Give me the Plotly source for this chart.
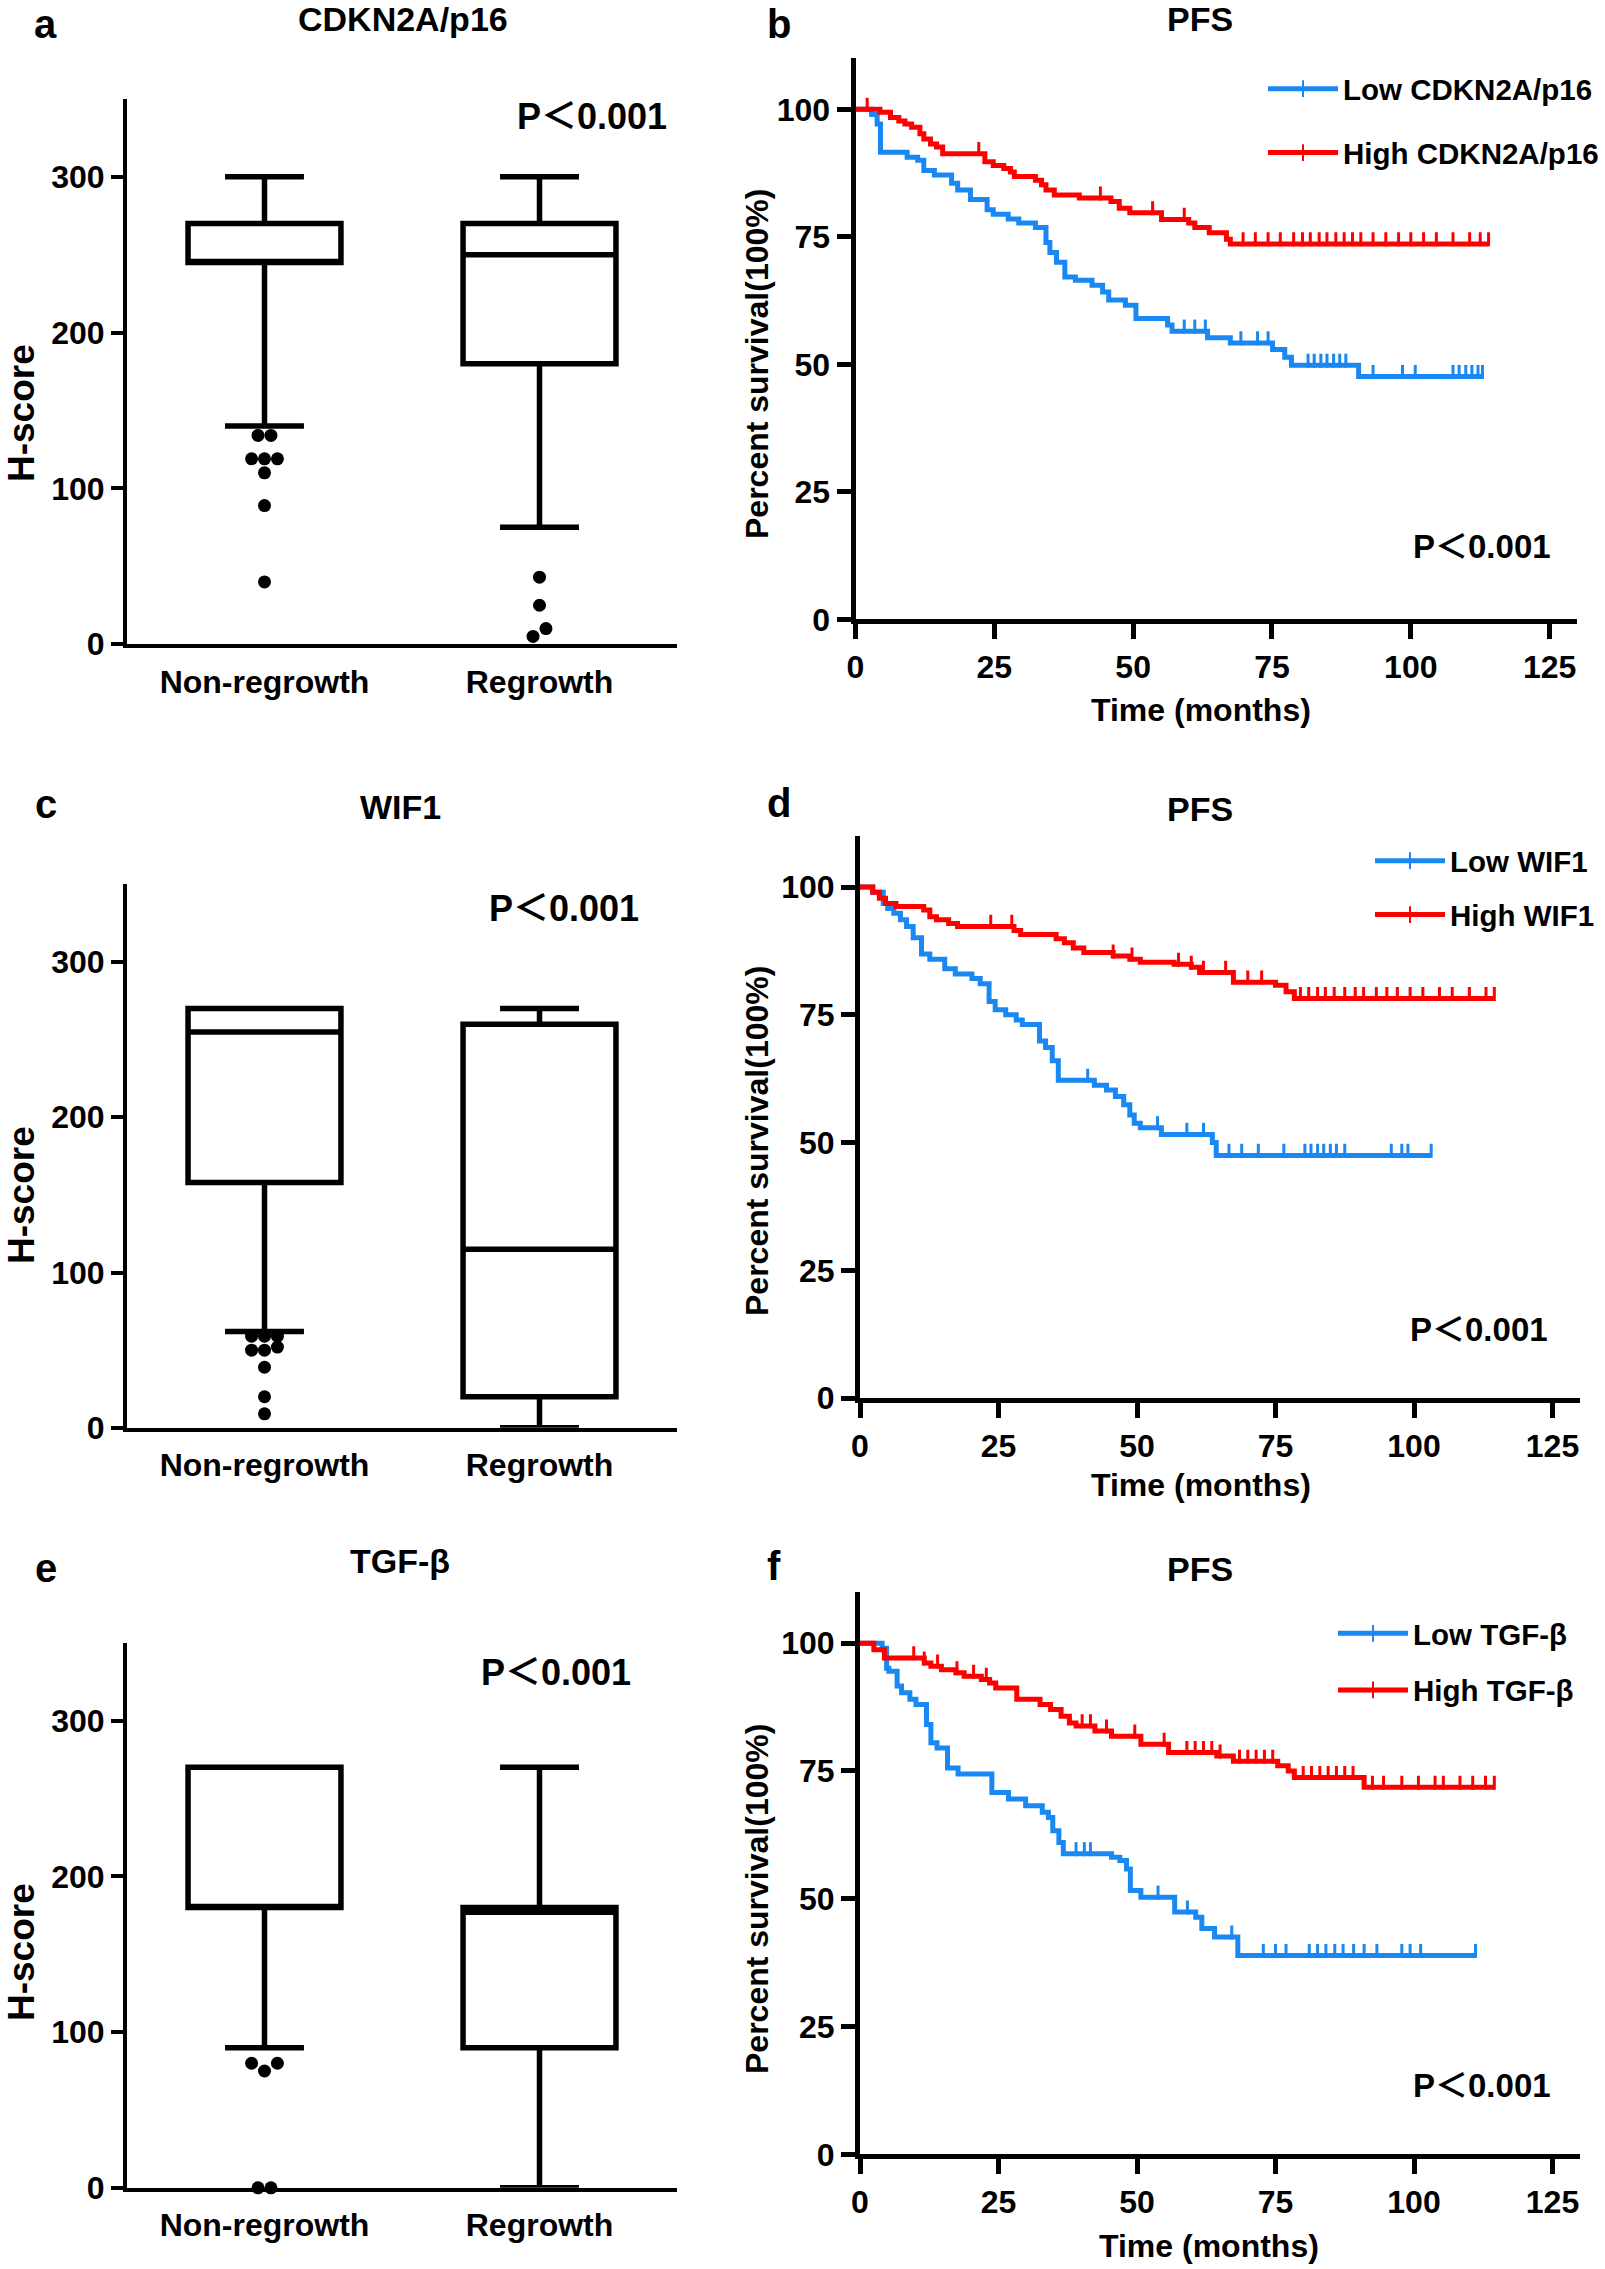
import plotly.graph_objects as go

W, H = 1605, 2269
FONT = "Liberation Sans, Arial, Noto Sans CJK SC, sans-serif"
BLUE = "#1a88f2"
RED = "#ff0000"

# ---------------- Box plot data (H-score) ----------------
groups = ["Non-regrowth", "Regrowth"]

a_lower = [140, 75]
a_q1 = [245, 180]
a_med = [245, 250]
a_q3 = [270, 270]
a_upper = [300, 300]
a_out_nr = [134, 134, 119, 119, 119, 110, 89, 40]
a_out_r = [43, 25, 5, 10]

c_lower = [62, 0]
c_q1 = [158, 20]
c_med = [255, 115]
c_q3 = [270, 260]
c_upper = [270, 270]
c_out_nr = [59, 59, 59, 50, 50, 52, 39, 20, 9]
c_out_r = []

e_lower = [90, 0]
e_q1 = [180, 90]
e_med = [180, 177]
e_q3 = [270, 180]
e_upper = [270, 270]
e_out_nr = [80, 75, 80, 0, 0]
e_out_r = []

# ---------------- Kaplan-Meier data (PFS) ----------------
b_low_t = [0, 2.9, 3.9, 4.5, 9.3, 11.2, 12.3, 14.2, 17.3, 18.4, 20.7, 23.7, 24.8, 27.5, 29.4, 32.4,
           34.3, 35.0, 36.2, 37.7, 39.6, 42.6, 44.5, 45.6, 48.6, 50.5, 56.2, 57.0, 63.4, 67.5, 75.1,
           77.3, 78.5, 90.6]
b_low_s = [100, 99.0, 97.1, 91.6, 90.6, 90.0, 88.0, 87.1, 85.5, 84.2, 82.3, 80.3, 79.4, 78.5, 77.7, 76.8,
           73.9, 71.9, 70.0, 67.1, 66.5, 65.5, 64.2, 62.6, 61.6, 59.0, 57.7, 56.5, 55.2, 54.2, 52.9,
           51.4, 49.8, 47.6]
b_low_end = 112.9
b_low_cens = [59.2, 61.1, 63.0, 69.4, 72.4, 74.3, 81.5, 82.6, 83.8, 84.9, 86.1, 87.2, 88.3, 93.2,
              98.5, 100.8, 107.6, 108.7, 109.9, 111.0, 112.1, 112.9]

b_high_t = [0, 4.4, 6.3, 7.8, 8.9, 10.1, 11.6, 12.3, 13.5, 14.6, 15.7, 23.3, 24.8, 26.7, 27.9, 28.6,
            32.4, 33.5, 34.3, 35.8, 40.3, 46.0, 47.5, 49.4, 55.1, 60.0, 61.1, 63.7, 66.8, 67.5]
b_high_s = [100, 99.4, 98.4, 97.7, 97.1, 96.5, 95.2, 94.2, 93.2, 92.6, 91.3, 89.7, 89.0, 88.4, 87.7, 86.8,
            86.1, 85.2, 84.2, 83.2, 82.6, 81.9, 80.6, 79.7, 78.4, 77.7, 76.8, 75.8, 74.5, 73.6]
b_high_end = 114.0
b_high_cens = [2.1, 22.2, 44.1, 53.5, 59.2, 69.8, 72.0, 74.3, 76.5, 78.9, 80.5, 81.9, 83.5, 84.9,
               86.5, 88.0, 89.5, 91.0, 93.2, 95.5, 97.8, 100.0, 102.3, 104.6, 107.6, 110.6, 112.5, 114.0]

d_low_t = [0, 2.3, 4.2, 5.0, 6.1, 7.3, 8.4, 9.6, 11.1, 12.6, 15.3, 17.2, 20.2, 21.7, 23.3, 24.4, 26.3,
           28.2, 29.3, 32.4, 33.5, 34.7, 35.8, 42.3, 44.5, 46.1, 47.6, 48.7, 49.5, 50.6, 54.4, 63.6, 64.3]
d_low_s = [100, 99.0, 96.8, 95.8, 94.9, 93.6, 92.3, 90.1, 86.9, 85.9, 84.0, 83.0, 82.1, 81.1, 77.6, 76.0,
           75.0, 74.0, 73.1, 69.9, 68.6, 66.0, 62.2, 61.2, 60.3, 59.0, 57.4, 55.4, 53.8, 52.9, 51.6,
           50.0, 47.5]
d_low_end = 103.1
d_low_cens = [41.1, 53.7, 59.0, 62.0, 66.6, 68.9, 71.9, 76.5, 80.3, 81.4, 82.6, 83.7, 84.9, 86.0, 87.5,
              95.9, 97.8, 98.9, 103.1]

d_high_t = [0, 2.3, 3.5, 4.6, 6.5, 11.5, 12.6, 13.8, 16.0, 17.6, 27.8, 29.0, 35.4, 36.9, 38.5, 40.4,
            45.7, 48.7, 50.6, 56.7, 59.8, 61.3, 67.4, 75.0, 76.9, 78.4]
d_high_s = [100, 99.0, 97.8, 96.8, 96.2, 95.5, 94.2, 93.6, 92.9, 92.3, 91.5, 90.7, 89.9, 89.1, 88.1, 87.2,
            86.5, 85.9, 85.3, 84.9, 84.3, 83.3, 81.4, 80.8, 79.5, 78.2]
d_high_end = 114.5
d_high_cens = [23.6, 27.4, 45.7, 49.1, 57.5, 59.8, 62.0, 66.0, 70.0, 72.5, 79.5, 81.0, 82.6, 84.0, 85.6,
               87.5, 89.4, 90.9, 93.2, 95.1, 97.0, 99.3, 101.6, 104.6, 106.9, 110.0, 113.0, 114.5]

f_low_t = [0, 4.0, 4.8, 5.2, 6.7, 7.5, 9.0, 10.1, 12.0, 12.8, 13.9, 15.8, 17.7, 23.8, 26.8, 29.9, 32.9,
           34.0, 34.8, 35.9, 36.7, 45.4, 46.9, 48.1, 48.8, 50.7, 56.8, 60.6, 61.7, 64.0, 68.2]
f_low_s = [100, 99.0, 95.1, 94.5, 91.6, 90.3, 89.0, 88.0, 84.1, 80.5, 79.5, 75.6, 74.4, 70.8, 69.5, 68.2,
           66.9, 65.9, 63.3, 61.0, 58.8, 58.1, 57.5, 55.8, 51.6, 50.3, 47.4, 46.4, 44.2, 42.5, 38.9]
f_low_end = 111.1
f_low_cens = [39.0, 40.5, 41.6, 53.8, 59.1, 67.1, 72.8, 75.0, 76.9, 81.1, 82.6, 84.1, 85.7, 87.2, 89.1,
              91.0, 93.3, 97.8, 99.3, 101.2, 111.1]

f_high_t = [0, 2.5, 4.4, 11.6, 12.8, 14.7, 17.3, 18.8, 21.9, 23.4, 24.5, 28.3, 32.5, 34.4, 36.3, 37.8,
            39.0, 42.4, 45.4, 50.7, 55.7, 64.4, 67.4, 75.4, 77.3, 78.4, 91.0]
f_high_s = [100, 98.7, 97.1, 96.1, 95.5, 94.8, 94.2, 93.5, 92.9, 92.2, 91.2, 89.0, 88.0, 87.0, 85.7, 84.4,
            83.8, 82.8, 81.8, 80.2, 78.6, 77.9, 76.9, 76.0, 75.0, 73.7, 71.8]
f_high_end = 114.5
f_high_cens = [9.7, 11.6, 14.0, 17.5, 20.5, 22.8, 40.1, 41.6, 44.5, 49.6, 54.9, 59.0, 60.5, 62.0, 63.5,
               65.0, 68.5, 70.0, 71.5, 73.0, 74.5, 80.0, 81.5, 83.0, 84.5, 86.0, 87.5, 89.0, 92.5, 94.5,
               97.8, 100.8, 103.8, 105.3, 108.3, 110.6, 112.9, 114.5]

km_xticks = [0, 25, 50, 75, 100, 125]
km_yticks = [0, 25, 50, 75, 100]
box_yticks = [0, 100, 200, 300]


# ---------------- helpers ----------------
def pxx(p):
    return p / W


def pxy(p):
    return 1 - p / H


def level_at(times, levels, t):
    s = levels[0]
    for ti, si in zip(times, levels):
        if ti <= t:
            s = si
    return s


def swarm(values, center, dx, tol):
    grps = []
    for v in values:
        if grps and abs(v - grps[-1][0]) <= tol:
            grps[-1].append(v)
        else:
            grps.append([v])
    xs, ys = [], []
    for g in grps:
        n = len(g)
        for i, v in enumerate(g):
            xs.append(center + (i - (n - 1) / 2) * dx)
            ys.append(v)
    return xs, ys


fig = go.Figure()


def add_box(xa, ya, lower, q1, med, q3, upper, outs):
    for i in range(len(groups)):
        fig.add_trace(go.Box(
            x=[i], q1=[q1[i]], median=[med[i]], q3=[q3[i]],
            lowerfence=[lower[i]], upperfence=[upper[i]],
            width=0.556, whiskerwidth=0.516, boxpoints=False,
            line=dict(color="black", width=5.5), fillcolor="white",
            showlegend=False, hoverinfo="skip", xaxis=xa, yaxis=ya))
        xs, ys = swarm(outs[i], i, 0.047, 6)
        if xs:
            fig.add_trace(go.Scatter(
                x=xs, y=ys, mode="markers", cliponaxis=False,
                marker=dict(color="black", size=13),
                showlegend=False, hoverinfo="skip", xaxis=xa, yaxis=ya))


def add_km(xa, ya, legend, name, color, times, levels, end, cens, group):
    xs = list(times) + [end]
    ys = list(levels) + [levels[-1]]
    fig.add_trace(go.Scatter(
        x=xs, y=ys, mode="lines+markers", name=name,
        line=dict(color=color, width=5, shape="hv"),
        marker=dict(symbol="line-ns", size=0.01, color=color, line=dict(color=color, width=3)),
        legend=legend, legendgroup=group, xaxis=xa, yaxis=ya, hoverinfo="skip"))
    cy = [level_at(times, levels, t) + 0.9 for t in cens]
    fig.add_trace(go.Scatter(
        x=cens, y=cy, mode="markers", showlegend=False, legendgroup=group,
        marker=dict(symbol="line-ns", size=10, color=color, line=dict(color=color, width=3)),
        xaxis=xa, yaxis=ya, hoverinfo="skip"))


add_box("x", "y", a_lower, a_q1, a_med, a_q3, a_upper, [a_out_nr, a_out_r])
add_box("x3", "y3", c_lower, c_q1, c_med, c_q3, c_upper, [c_out_nr, c_out_r])
add_box("x5", "y5", e_lower, e_q1, e_med, e_q3, e_upper, [e_out_nr, e_out_r])

add_km("x2", "y2", "legend", "Low CDKN2A/p16", BLUE, b_low_t, b_low_s, b_low_end, b_low_cens, "bl")
add_km("x2", "y2", "legend", "High CDKN2A/p16", RED, b_high_t, b_high_s, b_high_end, b_high_cens, "bh")
add_km("x4", "y4", "legend2", "Low WIF1", BLUE, d_low_t, d_low_s, d_low_end, d_low_cens, "dl")
add_km("x4", "y4", "legend2", "High WIF1", RED, d_high_t, d_high_s, d_high_end, d_high_cens, "dh")
add_km("x6", "y6", "legend3", "Low TGF-β", BLUE, f_low_t, f_low_s, f_low_end, f_low_cens, "fl")
add_km("x6", "y6", "legend3", "High TGF-β", RED, f_high_t, f_high_s, f_high_end, f_high_cens, "fh")

tickfont = dict(family=FONT, size=32, color="black", weight="bold")


def box_axes(top, bottom, anchor_x, anchor_y):
    xa = dict(domain=[pxx(127), pxx(677)], range=[-0.5, 1.5], anchor=anchor_y,
              showline=True, linewidth=4, linecolor="black", showgrid=False, zeroline=False,
              tickvals=[0, 1], ticktext=groups, ticks="outside", ticklen=6,
              tickcolor="rgba(0,0,0,0)", tickfont=tickfont, fixedrange=True)
    ya = dict(domain=[pxy(bottom), pxy(top)], range=[0, 350], anchor=anchor_x,
              showline=True, linewidth=4, linecolor="black", showgrid=False, zeroline=False,
              tickvals=box_yticks, ticks="outside", ticklen=12, tickwidth=4, tickcolor="black",
              tickfont=tickfont, fixedrange=True)
    return xa, ya


def km_axes(left, right, top, bottom, anchor_x, anchor_y):
    xa = dict(domain=[pxx(left), pxx(right)], range=[0, 130], anchor=anchor_y,
              showline=True, linewidth=5, linecolor="black", showgrid=False, zeroline=False,
              tickvals=km_xticks, ticks="outside", ticklen=15, tickwidth=5, tickcolor="black",
              tickfont=tickfont, fixedrange=True)
    ya = dict(domain=[pxy(bottom), pxy(top)], range=[0, 110], anchor=anchor_x,
              showline=True, linewidth=5, linecolor="black", showgrid=False, zeroline=False,
              tickvals=km_yticks, ticks="outside", ticklen=14, tickwidth=5, tickcolor="black",
              tickfont=tickfont, fixedrange=True)
    return xa, ya


xa1, ya1 = box_axes(98.9, 644.2, "x", "y")
xa3, ya3 = box_axes(884.4, 1427.8, "x3", "y3")
xa5, ya5 = box_axes(1642.8, 2187.8, "x5", "y5")
xa2, ya2 = km_axes(855.5, 1577.4, 58.3, 619.3, "x2", "y2")
xa4, ya4 = km_axes(860, 1580.2, 836, 1398.1, "x4", "y4")
xa6, ya6 = km_axes(860, 1580.2, 1592, 2154.4, "x6", "y6")

annotations = []


def text(s, x, y, size, angle=0, xanchor="center", yanchor="middle"):
    annotations.append(dict(text=s, x=pxx(x), y=pxy(y), xref="paper", yref="paper",
                            xanchor=xanchor, yanchor=yanchor, showarrow=False, textangle=angle,
                            font=dict(family=FONT, size=size, color="black", weight="bold")))


# panel letters
for s, x, y in [("a", 45, 0), ("b", 779, 0), ("c", 46, 780), ("d", 779, 779), ("e", 46, 1544), ("f", 774, 1542)]:
    text(s, x, y, 40, yanchor="top")
# panel titles
for s, x, y in [("CDKN2A/p16", 403, 19), ("PFS", 1200, 19), ("WIF1", 400, 807), ("PFS", 1200, 809),
                ("TGF-β", 400, 1561), ("PFS", 1200, 1569)]:
    text(s, x, y, 34)
# p-values
for x, y in [(592, 117), (564, 909), (556, 1672)]:
    text("P＜0.001", x, y, 36)
for x, y in [(1482, 547), (1479, 1329), (1482, 2085)]:
    text("P＜0.001", x, y, 33)
# axis titles
for y in [413, 1195, 1952]:
    text("H-score", 21, y, 37, angle=-90)
for y in [364, 1141, 1899]:
    text("Percent survival(100%)", 757, y, 32, angle=-90)
for x, y in [(1201, 710), (1201, 1485), (1209, 2246)]:
    text("Time (months)", x, y, 32)

legend_common = dict(xanchor="left", yanchor="top", bgcolor="rgba(0,0,0,0)", borderwidth=0,
                     font=dict(family=FONT, size=29.5, color="black", weight="bold"),
                     itemsizing="constant", traceorder="grouped", itemwidth=70,
                     itemclick=False, itemdoubleclick=False)

fig.update_layout(
    width=W, height=H, margin=dict(l=0, r=0, t=0, b=0, autoexpand=False),
    paper_bgcolor="white", plot_bgcolor="white", showlegend=True,
    xaxis=xa1, yaxis=ya1, xaxis2=xa2, yaxis2=ya2, xaxis3=xa3, yaxis3=ya3,
    xaxis4=xa4, yaxis4=ya4, xaxis5=xa5, yaxis5=ya5, xaxis6=xa6, yaxis6=ya6,
    legend=dict(x=pxx(1263), y=pxy(63), tracegroupgap=22.5, **legend_common),
    legend2=dict(x=pxx(1370), y=pxy(835), tracegroupgap=12.5, **legend_common),
    legend3=dict(x=pxx(1333), y=pxy(1607.6), tracegroupgap=15.3, **legend_common),
    annotations=annotations,
)

fig.write_html("out.html", config={"displayModeBar": False},
               post_script="document.body.style.margin='0px';document.body.style.padding='0px';")
